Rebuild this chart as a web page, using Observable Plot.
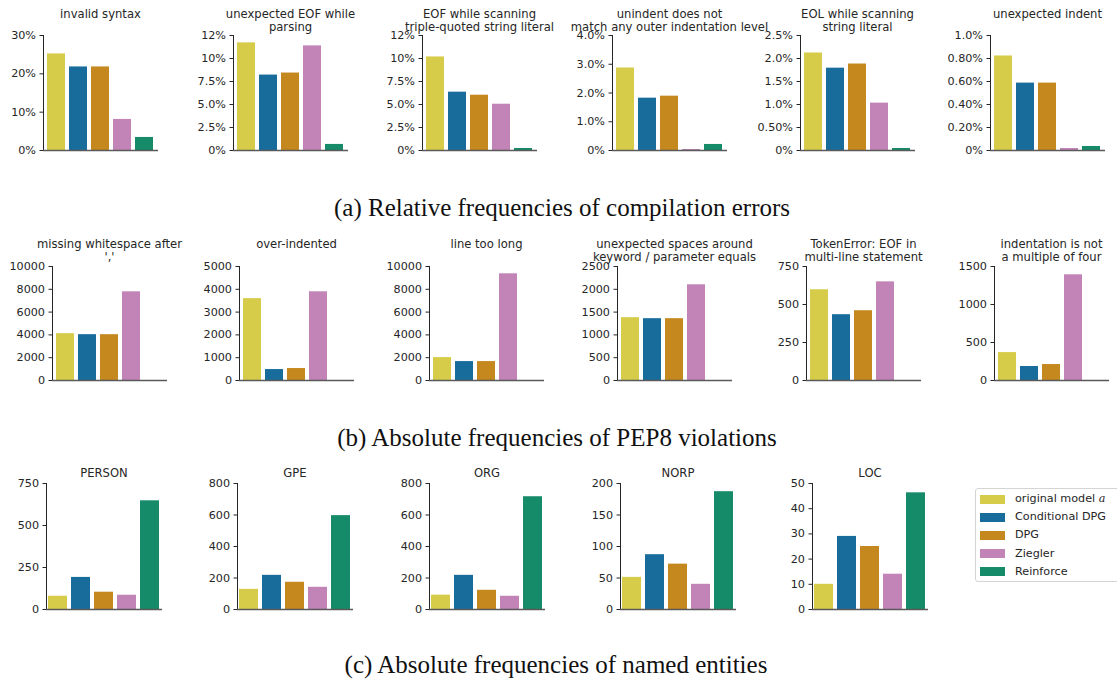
<!DOCTYPE html>
<html><head><meta charset="utf-8">
<script src="https://cdn.jsdelivr.net/npm/d3@7"></script>
<script src="https://cdn.jsdelivr.net/npm/@observablehq/plot@0.6"></script>
<style>
body{margin:0;background:#fff;}
#root{position:relative;width:1117px;height:687px;overflow:hidden;font-family:"DejaVu Sans";color:#262626;}
.title{position:absolute;text-align:center;font-size:11.6px;line-height:13px;white-space:pre;transform:translateX(-50%);}
.cap{position:absolute;font-family:"Liberation Serif";font-size:25px;transform:translate(-50%,-50%);white-space:nowrap;color:#111;}
.panel{position:absolute;}
.legend{position:absolute;left:975px;top:488px;width:160px;height:94px;border:1px solid #d4d4d4;border-radius:3px;box-sizing:border-box;background:#fff;}
.lrow{position:absolute;left:4px;height:18px;font-size:11.2px;line-height:18px;white-space:nowrap;}
.sw{position:absolute;left:0;top:4.5px;width:25px;height:9px;}
.lt{position:absolute;left:35px;top:0;}
</style></head><body><div id="root"></div><script>
// ---- data ----
const models = ["original model a", "Conditional DPG", "DPG", "Ziegler", "Reinforce"];
const colors = ["#d6cc4a", "#186c9c", "#c4881f", "#c283b7", "#158b69"];

// (a) relative frequencies of compilation errors (percent)
const compileTitles = ["invalid syntax", "unexpected EOF while\nparsing", "EOF while scanning\ntriple-quoted string literal",
  "unindent does not\nmatch any outer indentation level", "EOL while scanning\nstring literal", "unexpected indent"];
const compileValues = [
  [25.2, 21.8, 21.8, 8.1, 3.4],
  [11.7, 8.2, 8.42, 11.37, 0.66],
  [10.17, 6.34, 6.01, 5.03, 0.22],
  [2.87, 1.82, 1.89, 0.035, 0.21],
  [2.12, 1.79, 1.88, 1.03, 0.044],
  [0.822, 0.586, 0.586, 0.0175, 0.035]
];
const compileMax = [30, 12.5, 12.5, 4, 2.5, 1];
const compileTicks = [[0, 10, 20, 30], [0, 2.5, 5, 7.5, 10, 12.5], [0, 2.5, 5, 7.5, 10, 12.5], [0, 1, 2, 3, 4], [0, 0.5, 1, 1.5, 2, 2.5], [0, 0.2, 0.4, 0.6, 0.8, 1]];
const compileTickLabels = [["0%", "10%", "20%", "30%"], ["0%", "2.5%", "5.0%", "7.5%", "10%", "12%"], ["0%", "2.5%", "5.0%", "7.5%", "10%", "12%"],
  ["0%", "1.0%", "2.0%", "3.0%", "4.0%"], ["0%", "0.50%", "1.0%", "1.5%", "2.0%", "2.5%"], ["0%", "0.20%", "0.40%", "0.60%", "0.80%", "1.0%"]];

// (b) absolute frequencies of PEP8 violations (no Reinforce bar)
const pepTitles = ["missing whitespace after\n','", "over-indented", "line too long", "unexpected spaces around\nkeyword / parameter equals",
  "TokenError: EOF in\nmulti-line statement", "indentation is not\na multiple of four"];
const pepValues = [
  [4110, 4020, 4020, 7780, null],
  [3590, 480, 525, 3890, null],
  [2010, 1660, 1660, 9360, null],
  [1378, 1356, 1356, 2099, null],
  [597, 433, 459, 649, null],
  [367, 184, 210, 1391, null]
];
const pepMax = [10000, 5000, 10000, 2500, 750, 1500];
const pepTicks = [[0, 2000, 4000, 6000, 8000, 10000], [0, 1000, 2000, 3000, 4000, 5000], [0, 2000, 4000, 6000, 8000, 10000],
  [0, 500, 1000, 1500, 2000, 2500], [0, 250, 500, 750], [0, 500, 1000, 1500]];

// (c) absolute frequencies of named entities
const entityTitles = ["PERSON", "GPE", "ORG", "NORP", "LOC"];
const entityValues = [
  [79, 191, 103, 85, 647],
  [128, 217, 173, 141, 596],
  [91, 217, 122, 84, 716],
  [51, 87, 72, 40, 187],
  [10, 29, 25, 14, 46.3]
];
const entityMax = [750, 800, 800, 200, 50];
const entityTicks = [[0, 250, 500, 750], [0, 200, 400, 600, 800], [0, 200, 400, 600, 800], [0, 50, 100, 150, 200], [0, 10, 20, 30, 40, 50]];

const captions = ["(a) Relative frequencies of compilation errors", "(b) Absolute frequencies of PEP8 violations", "(c) Absolute frequencies of named entities"];

// ---- layout ----
const root = document.getElementById("root");
const ML = 50, MR = 6, MT = 8, MB = 6;

function panel({axisX, top, w, h, values, max, ticks, labels, title, titleY}) {
  const data = models.map((m, i) => ({model: m, value: values[i]})).filter(d => d.value != null);
  const fmt = labels ? (d => labels[ticks.indexOf(d)]) : (d => String(d));
  const chart = Plot.plot({
    width: ML + w + MR, height: MT + h + MB,
    marginLeft: ML, marginRight: MR, marginTop: MT, marginBottom: MB,
    style: {fontFamily: "DejaVu Sans", fontSize: "11.2px", color: "#262626", background: "transparent", overflow: "visible"},
    x: {domain: models, axis: null, paddingInner: 0.17, paddingOuter: 0.09},
    y: {domain: [0, max], ticks: ticks, tickFormat: fmt, tickSize: 3.5, tickPadding: 4, line: true, label: null},
    color: {domain: models, range: colors},
    marks: [
      Plot.barY(data, {x: "model", y: "value", fill: "model"}),
      Plot.ruleY([0], {stroke: "#5a5a5a", strokeWidth: 1.4})
    ]
  });
  chart.classList.add("panel");
  chart.style.left = (axisX - ML) + "px";
  chart.style.top = (top - MT) + "px";
  root.appendChild(chart);
  const t = document.createElement("div");
  t.className = "title";
  t.textContent = title;
  t.style.left = (axisX + w / 2) + "px";
  t.style.top = (titleY - 6.5) + "px";
  root.appendChild(t);
}

const rowA = {xs: [43, 233, 422, 612, 800, 990], top: 35, w: 115, h: 115, titleY: 14};
const rowB = {xs: [52, 239, 429, 617, 806, 994], top: 266, w: 115, h: 114, titleY: 244};
const rowC = {xs: [46, 237, 429, 620, 812], top: 483, w: 116, h: 126, titleY: 473};

compileTitles.forEach((title, i) => panel({axisX: rowA.xs[i], top: rowA.top, w: rowA.w, h: rowA.h, values: compileValues[i],
  max: compileMax[i], ticks: compileTicks[i], labels: compileTickLabels[i], title, titleY: rowA.titleY}));
pepTitles.forEach((title, i) => panel({axisX: rowB.xs[i], top: rowB.top, w: rowB.w, h: rowB.h, values: pepValues[i],
  max: pepMax[i], ticks: pepTicks[i], labels: null, title, titleY: rowB.titleY}));
entityTitles.forEach((title, i) => panel({axisX: rowC.xs[i], top: rowC.top, w: rowC.w, h: rowC.h, values: entityValues[i],
  max: entityMax[i], ticks: entityTicks[i], labels: null, title, titleY: rowC.titleY}));

// captions
const capPos = [[562, 208], [557, 438], [556, 665]];
captions.forEach((c, i) => {
  const d = document.createElement("div");
  d.className = "cap";
  d.textContent = c;
  d.style.left = capPos[i][0] + "px";
  d.style.top = capPos[i][1] + "px";
  root.appendChild(d);
});

// legend
const lg = document.createElement("div");
lg.className = "legend";
models.forEach((m, i) => {
  const r = document.createElement("div");
  r.className = "lrow";
  r.style.top = (1 + i * 18.2) + "px";
  const sw = document.createElement("div");
  sw.className = "sw";
  sw.style.background = colors[i];
  r.appendChild(sw);
  const lt = document.createElement("div");
  lt.className = "lt";
  if (m.endsWith(" a")) {
    lt.appendChild(document.createTextNode(m.slice(0, -1)));
    const it = document.createElement("i");
    it.style.fontFamily = "DejaVu Serif";
    it.textContent = "a";
    lt.appendChild(it);
  } else lt.textContent = m;
  r.appendChild(lt);
  lg.appendChild(r);
});
root.appendChild(lg);
</script></body></html>
